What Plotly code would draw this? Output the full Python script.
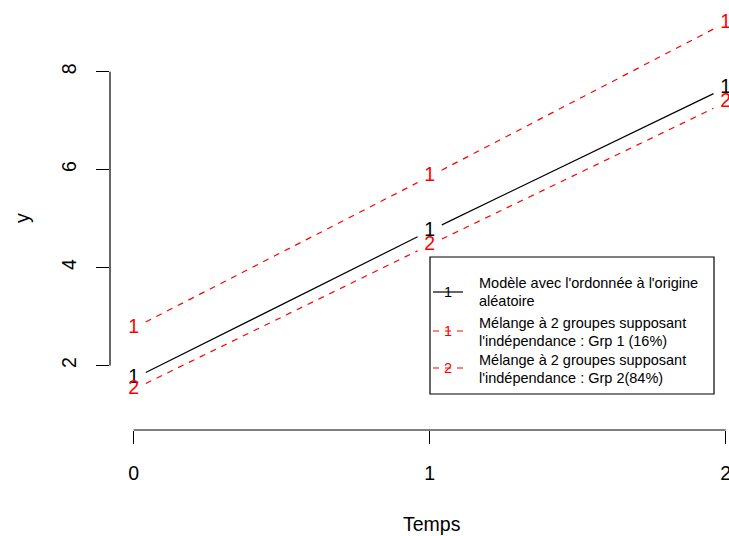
import math
import plotly.graph_objects as go

# ---- data ----
temps = [0, 1, 2]
y_aleatoire = [1.73, 4.75, 7.67]
y_grp1 = [2.76, 5.86, 9.00]
y_grp2 = [1.51, 4.46, 7.37]
x_ticks = [0, 1, 2]
y_ticks = [2, 4, 6, 8]
legend_labels = [
    ["Modèle avec l'ordonnée à l'origine", "aléatoire"],
    ["Mélange à 2 groupes supposant", "l'indépendance : Grp 1 (16%)"],
    ["Mélange à 2 groupes supposant", "l'indépendance : Grp 2(84%)"],
]
symbols = ["1", "1", "2"]
colors = ["black", "red", "red"]
dashes = ["solid", "6px,6px", "6px,6px"]

# ---- layout geometry ----
W, H = 729, 536
ML, MR, MT, MB = 110, 0, 7, 106
PW, PH = W - ML - MR, H - MT - MB
XMIN = -0.08
XMAX = XMIN + PW / 296.0
YMIN, YMAX = 0.68, 9.32
SX = PW / (XMAX - XMIN)
SY = PH / (YMAX - YMIN)
GAP = 13.5
FONT = "Liberation Sans, Arial, Helvetica, sans-serif"


def gapped(xs, ys, gap):
    ox, oy = [], []
    for i in range(len(xs) - 1):
        dx = (xs[i + 1] - xs[i]) * SX
        dy = (ys[i + 1] - ys[i]) * SY
        d = math.hypot(dx, dy)
        if d <= 2 * gap:
            continue
        f = gap / d
        ox += [xs[i] + f * (xs[i + 1] - xs[i]), xs[i + 1] - f * (xs[i + 1] - xs[i]), None]
        oy += [ys[i] + f * (ys[i + 1] - ys[i]), ys[i + 1] - f * (ys[i + 1] - ys[i]), None]
    return ox, oy


def px(xp):
    return (xp - ML) / PW


def py(yp):
    return (H - MB - yp) / PH


fig = go.Figure()
series = [y_aleatoire, y_grp1, y_grp2]
for ys, sym, col, dash in zip(series, symbols, colors, dashes):
    gx, gy = gapped(temps, ys, GAP)
    fig.add_trace(go.Scatter(x=gx, y=gy, mode="lines",
                             line=dict(color=col, width=1.2, dash=dash),
                             hoverinfo="skip", showlegend=False))
    fig.add_trace(go.Scatter(x=temps, y=ys, mode="text", text=[sym] * len(temps),
                             textposition="middle center",
                             textfont=dict(color=col, size=19.5, family=FONT),
                             cliponaxis=False, showlegend=False))

shapes = [
    # R-style axis lines spanning tick range
    dict(type="line", xref="paper", yref="y", x0=0, x1=0, y0=min(y_ticks), y1=max(y_ticks),
         line=dict(color="black", width=1.2)),
    dict(type="line", xref="x", yref="paper", x0=min(x_ticks), x1=max(x_ticks), y0=0, y1=0,
         line=dict(color="black", width=1.2)),
    # legend box
    dict(type="rect", xref="paper", yref="paper", x0=px(430), x1=px(714), y0=py(394), y1=py(257),
         line=dict(color="black", width=1.2), fillcolor="white", layer="above"),
]
annotations = []
sym_y = [292, 331, 368]
text_y = [(283, 301), (323, 341), (360, 378)]
for i in range(3):
    shapes.append(dict(type="line", xref="paper", yref="paper", x0=px(433), x1=px(463),
                       y0=py(sym_y[i]), y1=py(sym_y[i]),
                       line=dict(color=colors[i], width=1.2, dash=dashes[i]), layer="above"))
    annotations.append(dict(x=px(448), y=py(sym_y[i]), xref="paper", yref="paper",
                            text=symbols[i], showarrow=False, xanchor="center", yanchor="middle",
                            font=dict(color=colors[i], size=14.5, family=FONT)))
    for j in range(2):
        annotations.append(dict(x=px(477), y=py(text_y[i][j]), xref="paper", yref="paper",
                                text=legend_labels[i][j], showarrow=False, xanchor="left",
                                yanchor="middle", font=dict(color="black", size=14.5, family=FONT)))

annotations.append(dict(x=px(432), y=py(524), xref="paper", yref="paper", text="Temps",
                        showarrow=False, xanchor="center", yanchor="middle",
                        font=dict(color="black", size=19.5, family=FONT)))
annotations.append(dict(x=px(22), y=py(218), xref="paper", yref="paper", text="y",
                        showarrow=False, xanchor="center", yanchor="middle", textangle=-90,
                        font=dict(color="black", size=19.5, family=FONT)))

fig.update_layout(
    width=W, height=H,
    margin=dict(l=ML, r=MR, t=MT, b=MB, autoexpand=False),
    paper_bgcolor="white", plot_bgcolor="white",
    shapes=shapes, annotations=annotations,
    xaxis=dict(range=[XMIN, XMAX], tickvals=x_ticks, ticktext=[str(v) for v in x_ticks],
               showgrid=False, zeroline=False, showline=False, ticklabeloverflow="allow",
               ticks="outside", ticklen=13, tickwidth=1.2, tickcolor="black",
               tickfont=dict(size=19.5, color="black", family=FONT), ticklabelstandoff=13),
    yaxis=dict(range=[YMIN, YMAX], tickvals=y_ticks, ticktext=[str(v) for v in y_ticks],
               showgrid=False, zeroline=False, showline=False, ticklabeloverflow="allow",
               ticks="outside", ticklen=13, tickwidth=1.2, tickcolor="black", tickangle=-90,
               tickfont=dict(size=19.5, color="black", family=FONT), ticklabelstandoff=12),
    font=dict(family=FONT),
)

fig.write_html("out.html", config={"displayModeBar": False},
               post_script="document.body.style.margin='0px';document.body.style.overflow='hidden';")
